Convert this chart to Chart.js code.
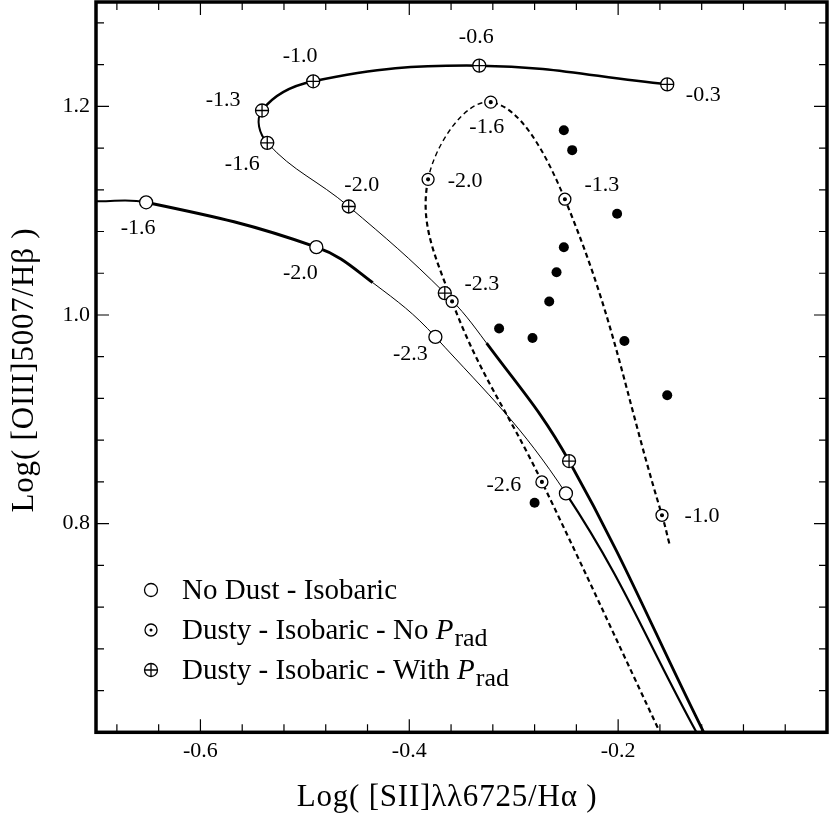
<!DOCTYPE html>
<html>
<head>
<meta charset="utf-8">
<script src="https://cdn.jsdelivr.net/npm/chart.js@4.4.1/dist/chart.umd.min.js"></script>
<style>
  html, body { margin: 0; padding: 0; background: #fff; }
  #wrap { width: 830px; height: 817px; }
</style>
</head>
<body>
<div id="wrap"><canvas id="bpt" width="830" height="817"></canvas></div>
<script>
// ---- values ----
// axis ticks
const xMajor = [-0.6, -0.4, -0.2];
const xMinor = [-0.68, -0.64, -0.56, -0.52, -0.48, -0.44, -0.36, -0.32, -0.28, -0.24, -0.16, -0.12, -0.08, -0.04];
const yMajor = [0.8, 1.0, 1.2];
const yMinor = [0.64, 0.68, 0.72, 0.76, 0.84, 0.88, 0.92, 0.96, 1.04, 1.08, 1.12, 1.16, 1.24, 1.28];

// No Dust - Isobaric (first / last point = where the track leaves the frame)
const noDustX = [-0.700, -0.652, -0.489, -0.435, -0.375, -0.250, -0.125];
const noDustY = [1.109, 1.108, 1.065, 1.031, 0.979, 0.829, 0.600];
const noDustMark = [0, 1, 1, 0, 1, 1, 0];
const noDustU = ['', '-1.6', '-2.0', '', '-2.3', '', ''];

// Dusty - Isobaric - No Prad
const dustyX = [-0.151, -0.158, -0.251, -0.322, -0.382, -0.359, -0.273, -0.160];
const dustyY = [0.781, 0.808, 1.111, 1.204, 1.130, 1.013, 0.840, 0.600];
const dustyMark = [0, 1, 1, 1, 1, 1, 1, 0];
const dustyU = ['', '-1.0', '-1.3', '-1.6', '-2.0', '', '-2.6', ''];

// Dusty - Isobaric - With Prad
const pradX = [-0.153, -0.333, -0.492, -0.541, -0.536, -0.458, -0.366, -0.326, -0.247, -0.118];
const pradY = [1.221, 1.239, 1.224, 1.196, 1.165, 1.104, 1.021, 0.973, 0.860, 0.600];
const pradMark = [1, 1, 1, 1, 1, 1, 1, 0, 1, 0];
const pradU = ['-0.3', '-0.6', '-1.0', '-1.3', '-1.6', '-2.0', '-2.3', '', '', ''];

// observed objects (filled dots)
const obsX = [-0.252, -0.244, -0.201, -0.252, -0.259, -0.266, -0.314, -0.282, -0.194, -0.153, -0.280];
const obsY = [1.177, 1.158, 1.097, 1.065, 1.041, 1.013, 0.987, 0.978, 0.975, 0.923, 0.820];

// ---- styling ----
const SERIF = '"Liberation Serif", "DejaVu Serif", serif';
Chart.defaults.font.family = SERIF;
Chart.defaults.color = '#000';

// line width of each segment along a track
const noDustW = [2, 3, 3, 1, 1, 2.2];
const dustyW = [2.2, 2.2, 2, 1.4, 2.2, 2.2, 2.2];
const pradW = [2.5, 2.5, 2.5, 2, 1, 1, 1, 2.8, 2.8];

// where each log U label sits relative to its marker (px)
const labelShift = {
  noDust: { '-1.6': [-8, 26], '-2.0': [-16, 26], '-2.3': [-25, 17] },
  prad: { '-0.3': [36, 11], '-0.6': [-3, -28], '-1.0': [-13, -25], '-1.3': [-39, -10],
          '-1.6': [-25, 21], '-2.0': [13, -21], '-2.3': [37, -9] },
  dusty: { '-1.0': [40, 1], '-1.3': [37, -14], '-1.6': [-4, 25], '-2.0': [37, 2], '-2.6': [-38, 3] }
};

const pts = (xs, ys) => xs.map((x, i) => ({ x: x, y: ys[i] }));
const marked = (xs, ys, m) => pts(xs, ys).filter((p, i) => m[i]);

function track(xs, ys, widths, dash) {
  return {
    data: pts(xs, ys),
    showLine: true,
    borderColor: '#000',
    borderWidth: 2,
    borderDash: dash || [],
    tension: 0.4,
    pointRadius: 0,
    fill: false,
    order: 3,
    segment: { borderWidth: c => widths[c.p0DataIndex] }
  };
}
// white circle drawn over the track
function rings(xs, ys, m, r) {
  return {
    data: marked(xs, ys, m),
    showLine: false,
    pointStyle: 'circle',
    pointRadius: r,
    backgroundColor: '#fff',
    borderColor: '#000',
    borderWidth: 1.3,
    order: 2
  };
}
// symbol inside the circle (cross or centre dot)
function inner(xs, ys, m, style, r) {
  return {
    data: marked(xs, ys, m),
    showLine: false,
    pointStyle: style,
    pointRadius: r,
    backgroundColor: '#000',
    borderColor: '#000',
    borderWidth: 1.3,
    order: 1
  };
}

const isMajor = (list, v) => list.some(m => Math.abs(m - v) < 1e-6);

// ticks, frame, point labels, legend and axis titles
const decorations = {
  id: 'decorations',
  afterDatasetsDraw(chart) {
    const ctx = chart.ctx, a = chart.chartArea;
    const sx = chart.scales.x, sy = chart.scales.y;
    ctx.save();

    // log U labels beside the model points
    ctx.font = '22px ' + SERIF;
    ctx.fillStyle = '#000';
    ctx.textAlign = 'center';
    ctx.textBaseline = 'middle';
    const put = (xs, ys, us, shifts) => {
      us.forEach((u, i) => {
        if (!u || !shifts[u]) return;
        ctx.fillText(u, sx.getPixelForValue(xs[i]) + shifts[u][0], sy.getPixelForValue(ys[i]) + shifts[u][1]);
      });
    };
    put(noDustX, noDustY, noDustU, labelShift.noDust);
    put(pradX, pradY, pradU, labelShift.prad);
    put(dustyX, dustyY, dustyU, labelShift.dusty);

    // inward tick marks on all four sides
    ctx.strokeStyle = '#000';
    ctx.lineWidth = 1.2;
    ctx.beginPath();
    xMajor.concat(xMinor).forEach(v => {
      const p = sx.getPixelForValue(v);
      const len = isMajor(xMajor, v) ? 13 : 8;
      ctx.moveTo(p, a.bottom); ctx.lineTo(p, a.bottom - len);
      ctx.moveTo(p, a.top); ctx.lineTo(p, a.top + len);
    });
    yMajor.concat(yMinor).forEach(v => {
      const p = sy.getPixelForValue(v);
      const len = isMajor(yMajor, v) ? 13 : 8;
      ctx.moveTo(a.left, p); ctx.lineTo(a.left + len, p);
      ctx.moveTo(a.right, p); ctx.lineTo(a.right - len, p);
    });
    ctx.stroke();

    // frame
    ctx.lineWidth = 3.5;
    ctx.strokeRect(a.left, a.top, a.right - a.left, a.bottom - a.top);

    // legend
    const lx = 151, rows = [590, 630, 670], tx = 182;
    ctx.lineWidth = 1.3;
    rows.forEach((y, i) => {
      ctx.beginPath(); ctx.arc(lx, y, i === 1 ? 6 : 6.5, 0, Math.PI * 2); ctx.stroke();
    });
    ctx.beginPath(); ctx.arc(lx, rows[1], 1.5, 0, Math.PI * 2); ctx.fill();
    ctx.beginPath();
    ctx.moveTo(lx - 6.5, rows[2]); ctx.lineTo(lx + 6.5, rows[2]);
    ctx.moveTo(lx, rows[2] - 6.5); ctx.lineTo(lx, rows[2] + 6.5);
    ctx.stroke();

    ctx.textAlign = 'left';
    ctx.textBaseline = 'alphabetic';
    const legendLine = (y, text, withP) => {
      ctx.font = '29px ' + SERIF;
      ctx.fillText(text, tx, y);
      if (!withP) return;
      let x = tx + ctx.measureText(text).width;
      ctx.font = 'italic 29px ' + SERIF;
      ctx.fillText('P', x, y);
      x += ctx.measureText('P').width + 1;
      ctx.font = '26px ' + SERIF;
      ctx.fillText('rad', x, y + 7);
    };
    legendLine(rows[0] + 9, 'No Dust - Isobaric', false);
    legendLine(rows[1] + 9, 'Dusty - Isobaric - No ', true);
    legendLine(rows[2] + 9, 'Dusty - Isobaric - With ', true);

    // axis titles
    ctx.font = '31px ' + SERIF;
    ctx.textAlign = 'center';
    if ('letterSpacing' in ctx) ctx.letterSpacing = '0.8px';
    ctx.fillText('Log( [SII]\u03bb\u03bb6725/H\u03b1 )', 447, 806);
    ctx.save();
    ctx.translate(33, 370);
    ctx.rotate(-Math.PI / 2);
    ctx.fillText('Log( [OIII]5007/H\u03b2 )', 0, 0);
    ctx.restore();

    ctx.restore();
  }
};

const chart = new Chart(document.getElementById('bpt'), {
  type: 'scatter',
  data: {
    datasets: [
      track(noDustX, noDustY, noDustW),
      track(dustyX, dustyY, dustyW, [5, 3.5]),
      track(pradX, pradY, pradW),
      rings(noDustX, noDustY, noDustMark, 6.5),
      rings(dustyX, dustyY, dustyMark, 6),
      inner(dustyX, dustyY, dustyMark, 'circle', 1.4),
      rings(pradX, pradY, pradMark, 6.5),
      inner(pradX, pradY, pradMark, 'cross', 6.5),
      {
        data: pts(obsX, obsY),
        showLine: false,
        pointStyle: 'circle',
        pointRadius: 5,
        backgroundColor: '#000',
        borderColor: '#000',
        borderWidth: 0,
        order: 1
      }
    ]
  },
  options: {
    responsive: false,
    animation: false,
    events: [],
    layout: { autoPadding: false, padding: { top: 2, right: 3, left: 0, bottom: 0 } },
    plugins: { legend: { display: false }, tooltip: { enabled: false } },
    scales: {
      x: {
        type: 'linear',
        min: -0.7,
        max: 0,
        afterFit: s => { s.height = 84.7; s.paddingLeft = 0; s.paddingRight = 0; },
        afterBuildTicks: s => { s.ticks = xMajor.concat(xMinor).sort((p, q) => p - q).map(v => ({ value: v })); },
        grid: { display: false, drawTicks: false },
        border: { display: false },
        ticks: {
          autoSkip: false,
          maxRotation: 0,
          padding: 6,
          font: { size: 22 },
          color: '#000',
          callback: v => isMajor(xMajor, v) ? v.toFixed(1) : ''
        }
      },
      y: {
        type: 'linear',
        min: 0.6,
        max: 1.3,
        afterFit: s => { s.width = 96; s.paddingTop = 0; s.paddingBottom = 0; },
        afterBuildTicks: s => { s.ticks = yMajor.concat(yMinor).sort((p, q) => p - q).map(v => ({ value: v })); },
        grid: { display: false, drawTicks: false },
        border: { display: false },
        ticks: {
          autoSkip: false,
          padding: 6,
          font: { size: 22 },
          color: '#000',
          callback: v => isMajor(yMajor, v) ? v.toFixed(1) : ''
        }
      }
    }
  },
  plugins: [decorations]
});
</script>
</body>
</html>
